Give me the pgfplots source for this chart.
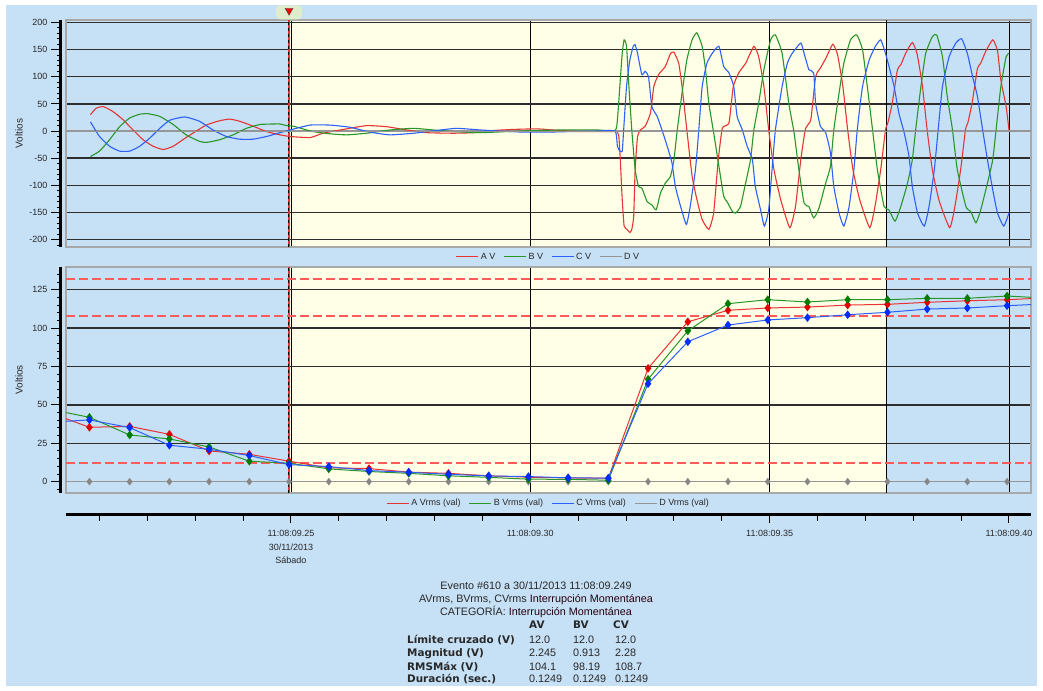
\documentclass[border=0pt]{standalone}
\usepackage{fontspec}
\setmainfont{Liberation Sans}
\newfontfamily\verdanalike{DejaVu Sans}
\usepackage{pgfplots}
\usepackage{pgfplotstable}
\pgfplotsset{compat=1.18}

\definecolor{pagebg}{RGB}{198,224,245}
\definecolor{evtyellow}{RGB}{255,255,231}
\definecolor{framec}{RGB}{168,168,168}
\definecolor{gridc}{RGB}{45,45,45}
\definecolor{txt}{RGB}{40,40,40}
\definecolor{phA}{RGB}{232,52,52}
\definecolor{phB}{RGB}{40,150,40}
\definecolor{phC}{RGB}{45,95,250}
\definecolor{phD}{RGB}{150,150,150}
\definecolor{limitc}{RGB}{255,90,90}
\definecolor{mkA}{RGB}{225,0,0}
\definecolor{mkB}{RGB}{0,125,0}
\definecolor{mkC}{RGB}{0,45,255}
\definecolor{mkD}{RGB}{135,135,135}
\definecolor{glow}{RGB}{222,238,205}

\newcommand\tickfont{\fontsize{9}{13.5}\selectfont}

% RMS values per half cycle (ms after 11:08:09.000)
\pgfplotstableread{
t      A       B      C
199.6  44.9    47.1   38.7
207.9  35.4    41.9   40.2
216.3  36.0    30.4   35.2
224.6  30.8    27.8   23.7
232.9  20.0    22.6   21.1
241.3  17.8    13.3   17.0
249.6  13.3    12.0   11.1
257.9  9.0     8.3    9.8
266.3  8.5     6.6    7.2
274.6  6.2     5.4    6.1
282.9  5.4     3.8    4.8
291.3  3.8     2.8    3.7
299.6  2.9     1.6    3.3
307.9  2.4     1.5    2.5
316.3  2.245   0.913  2.28
324.6  73.8    66.7   63.8
332.9  104.1   98.19  91.1
341.3  111.6   115.9  102.0
349.6  113.1   118.5  105.3
357.9  113.7   117.0  106.8
366.3  115.0   118.5  108.7
374.6  115.5   118.5  110.3
382.9  116.8   119.4  112.4
391.3  117.8   119.4  113.1
399.6  118.5   120.9  114.6
407.9  119.7   119.5  115.8
}\rmsdata

\pgfplotstableread{
t      D
207.9  0
216.3  0
224.6  0
232.9  0
241.3  0
249.6  0
257.9  0
266.3  0
274.6  0
282.9  0
291.3  0
299.6  0
307.9  0
316.3  0
324.6  0
332.9  0
341.3  0
349.6  0
357.9  0
366.3  0
374.6  0
382.9  0
391.3  0
399.6  0
}\rmsD

\pgfplotsset{
  panel/.style={scale only axis, width=965pt, xmin=203, xmax=404.6, anchor=south west},
  mainpanel/.style={
    panel, clip mode=individual,
    axis line style={draw=framec, line width=2pt},
    xtick={250,300,350,400}, xticklabels={}, xtick style={draw=none},
    xmajorgrids, x grid style={black, line width=0.9pt},
    ymajorgrids, y grid style={gridc, line width=1.4pt},
    tick align=outside, ytick pos=left, xtick pos=bottom,
    major tick length=10pt, minor tick length=4pt,
    ytick style={black, line width=0.9pt, xshift=-5pt},
    yticklabel style={font=\tickfont, text=txt, xshift=-5pt},
    every axis y label/.style={at={(rel axis cs:0,0.5)}, xshift=-47pt, rotate=90,
      anchor=center, font=\fontsize{10}{11}\selectfont, text=txt},
    ylabel={Voltios},
    legend image code/.code={\draw[##1] (0pt,0pt) -- (22pt,0pt);},
    legend style={at={(0.5,0)}, anchor=north, yshift=-4pt, draw=none, fill=none,
      legend columns=4, font=\fontsize{9}{10}\selectfont, text=txt, inner sep=0pt,
      /tikz/every even column/.append style={column sep=6pt}},
  },
  wave/.style={line width=1.1pt, smooth, tension=0.3},
  rms/.style={line width=1pt, mark=diamond*, mark size=3.5pt, forget plot},
  limitline/.style={limitc, line width=1.6pt, dash pattern=on 9pt off 4pt, forget plot},
}

\begin{document}
\begin{tikzpicture}[x=1pt,y=1pt]
\fill[white] (0,0) rectangle (1043,690);
\fill[pagebg] (6,4) rectangle (1037,685);

% ---------------- instantaneous voltages ----------------
\begin{axis}[panel, hide axis, height=226.4pt, at={(66pt,443.3pt)}, ymin=-213, ymax=204]
\fill[evtyellow] (249.6,-213) rectangle (374.5,204);
\end{axis}

\begin{axis}[mainpanel, height=226.4pt, at={(66pt,443.3pt)}, ymin=-213, ymax=204,
  ytick={-200,-150,-100,-50,50,100,150,200},
  yticklabels={-200,-150,-100,-50,50,100,150,200},
  extra y ticks={0}, extra y tick labels={0},
  extra y tick style={y grid style={phD, line width=1.2pt}},
  minor ytick={-210,-200,...,200},
]
\draw[line width=3pt] ([xshift=-5pt]rel axis cs:0,0) -- ([xshift=-5pt]rel axis cs:0,1);
\draw[black, line width=0.9pt] (374.5,-213) -- (374.5,204);
\draw[phA, line width=1.6pt] (249.6,-213) -- (249.6,204);
\draw[black, line width=1.1pt, dash pattern=on 3pt off 3pt] ([xshift=-0.6pt]249.6,-213) -- ([xshift=-0.6pt]249.6,204);
\fill[glow, rounded corners=4pt] ([xshift=-13pt,yshift=1pt]249.6,204) rectangle ([xshift=13pt,yshift=15pt]249.6,204);
\fill[red, draw=black!70, line width=0.4pt] ([xshift=-4pt,yshift=12pt]249.6,204) -- ([xshift=4pt,yshift=12pt]249.6,204) -- ([yshift=5pt]249.6,204) -- cycle;

\addplot[phA, wave] coordinates {
(208.1,30) (209.3,42) (210.8,45) (212.8,36) (214.9,21) (217.0,2) (219.1,-16) (221.2,-28)
(223.3,-34) (225.4,-28) (227.4,-16) (229.5,-4) (232.3,11) (235.1,19) (237.2,22) (239.3,18)
(242.1,9) (244.9,-1) (247.7,-7) (249.8,-10) (254.0,-12) (256.7,-4) (261.6,4) (265.8,10)
(270.0,8) (274.2,2) (278.4,-3) (283.9,-4) (288.1,-3) (292.3,1) (296.5,3) (301.4,4)
(306.2,1) (310.4,-1) (317.4,-1) (318.1,-1) (318.5,-10) (318.8,-53) (319.2,-126) (319.6,-175)
(320.2,-181) (320.8,-187) (321.2,-181) (321.6,-157) (321.9,-71) (322.4,-10) (323.0,2) (324.0,9)
(325.1,33) (325.8,82) (326.8,104) (328.2,119) (329.3,143) (330.0,145) (331.0,125) (331.7,82)
(332.7,2) (333.8,-83) (334.8,-126) (335.9,-163) (337.3,-181) (338.3,-151) (339.2,-59) (340.1,5)
(341.5,15) (342.4,82) (343.6,108) (345.0,125) (346.7,156) (347.7,137) (348.8,82) (349.8,2)
(350.9,-71) (352.3,-126) (354.2,-178) (355.4,-139) (356.5,-53) (357.5,5) (358.6,21) (359.6,100)
(360.6,116) (361.8,135) (363.2,160) (364.2,140) (365.3,82) (366.3,2) (367.4,-71) (368.8,-126)
(370.9,-178) (372.0,-139) (373.2,-71) (374.2,2) (374.7,15) (375.6,51) (376.7,113) (377.4,122)
(378.4,143) (379.8,163) (380.8,142) (381.9,84) (382.9,2) (384.0,-72) (385.4,-128) (387.6,-178)
(388.7,-139) (389.9,-71) (390.9,2) (391.4,15) (392.3,52) (393.4,115) (394.1,125) (395.1,146)
(396.6,168) (397.6,148) (398.3,94) (399.4,45) (400.0,2)
};
\addlegendentry{A V}
\addplot[phB, wave] coordinates {
(208.1,-47) (210.0,-37) (212.1,-16) (214.2,8) (216.3,24) (218.4,31) (220.1,32) (222.6,27)
(225.4,12) (228.1,-7) (230.9,-19) (232.3,-21) (235.1,-16) (237.9,-7) (240.7,5) (243.5,12)
(246.3,13) (247.7,13) (249.1,10) (250.5,9) (252.5,4) (254.6,-1) (258.1,-5) (261.6,-7)
(265.8,-4) (270.7,2) (275.6,5) (279.7,2) (283.9,-1) (289.5,-3) (295.1,-1) (300.7,1)
(307.0,2) (313.9,2) (317.7,1) (318.2,21) (318.7,82) (319.2,143) (319.6,168) (320.1,156)
(320.6,82) (321.2,2) (321.9,-71) (322.6,-102) (323.3,-105) (324.4,-130) (325.4,-136) (326.3,-145)
(327.2,-114) (328.2,-96) (329.3,-83) (330.0,-53) (330.7,2) (331.7,70) (332.7,131) (333.8,168)
(334.8,181) (335.9,156) (336.6,113) (337.3,51) (338.3,-3) (339.4,-65) (340.4,-120) (341.1,-130)
(342.2,-148) (342.9,-151) (343.9,-139) (344.9,-99) (346.0,-53) (346.7,2) (347.7,51) (348.8,113)
(350.2,168) (351.2,177) (352.6,143) (354.0,51) (355.1,-3) (356.1,-71) (357.2,-133) (358.2,-139)
(359.2,-160) (360.3,-142) (361.7,-96) (362.7,-65) (363.4,2) (364.5,70) (365.5,125) (366.9,168)
(368.2,177) (369.4,150) (370.4,82) (371.5,2) (372.5,-71) (373.9,-139) (374.9,-145) (376.2,-166)
(377.4,-139) (378.8,-96) (379.8,-53) (380.5,2) (381.6,82) (382.6,143) (384.0,174) (384.9,177)
(386.1,137) (387.1,64) (388.2,2) (389.2,-71) (391.0,-139) (392.0,-148) (393.1,-169) (394.1,-145)
(395.5,-96) (396.6,-53) (397.3,2) (398.3,82) (399.4,137) (400.0,143)
};
\addlegendentry{B V}
\addplot[phC, wave] coordinates {
(208.1,17) (210.0,-10) (212.1,-28) (214.2,-37) (216.3,-37) (218.4,-28) (220.5,-13) (222.6,5)
(224.7,20) (227.8,26) (230.9,18) (233.7,2) (236.5,-10) (239.3,-15) (242.1,-15) (244.9,-10)
(247.7,-3) (249.8,2) (254.0,11) (258.1,11) (262.3,7) (266.5,-2) (270.7,-7) (275.6,-4)
(280.4,1) (284.6,5) (289.5,2) (293.7,0) (298.6,-2) (303.5,-2) (308.3,-1) (313.9,0)
(317.7,0) (318.2,-28) (318.7,-37) (319.2,-37) (319.5,2) (320.1,82) (320.8,131) (321.5,156)
(321.9,159) (322.4,143) (323.3,104) (324.0,110) (324.7,100) (325.4,45) (326.5,27) (327.5,2)
(328.6,-28) (329.6,-59) (330.3,-102) (331.4,-139) (332.6,-172) (333.4,-139) (334.5,-71) (335.2,2)
(335.9,82) (336.9,125) (338.0,143) (339.4,156) (340.4,119) (341.5,107) (342.5,82) (343.2,27)
(344.3,2) (345.3,-28) (346.4,-53) (347.0,-102) (348.1,-145) (348.9,-175) (349.8,-145) (350.5,-71)
(351.2,2) (352.6,82) (353.7,125) (354.7,143) (356.5,162) (357.2,143) (358.2,113) (359.2,107)
(359.6,51) (360.6,9) (361.7,-3) (362.7,-40) (363.4,-102) (364.5,-151) (365.5,-175) (366.6,-139)
(367.6,-71) (368.3,2) (369.4,82) (370.8,131) (372.1,156) (373.2,168) (374.2,143) (375.2,110)
(376.0,82) (377.0,33) (378.1,-3) (379.1,-46) (379.8,-102) (380.9,-151) (382.3,-175) (383.3,-139)
(384.4,-71) (385.2,2) (386.1,82) (387.5,137) (388.9,162) (390.1,170) (391.3,143) (392.4,100)
(393.4,64) (394.5,2) (395.5,-53) (396.6,-108) (397.6,-151) (398.9,-175) (400.0,-151)
};
\addlegendentry{C V}
\addplot[phD, line width=1pt] coordinates {(208.1,0) (400.0,0)};
\addlegendentry{D V}
\end{axis}

% ---------------- RMS values ----------------
\begin{axis}[panel, hide axis, height=226.3pt, at={(66pt,197pt)}, ymin=-7.4, ymax=140]
\fill[evtyellow] (249.6,-7.4) rectangle (374.5,140);
\end{axis}

\begin{axis}[mainpanel, height=226.3pt, at={(66pt,197pt)}, ymin=-7.4, ymax=140,
  ytick={25,50,75,100,125}, yticklabels={25,50,75,100,125},
  extra y ticks={0}, extra y tick labels={0},
  extra y tick style={y grid style={phD, line width=1.2pt}},
  minor ytick={-5,0,...,135},
]
\draw[line width=3pt] ([xshift=-5pt]rel axis cs:0,0) -- ([xshift=-5pt]rel axis cs:0,1);
\draw[black, line width=0.9pt] (374.5,-7.4) -- (374.5,140);
\draw[phA, line width=1.6pt] (249.6,-7.4) -- (249.6,140);
\draw[black, line width=1.1pt, dash pattern=on 3pt off 3pt] ([xshift=-0.6pt]249.6,-7.4) -- ([xshift=-0.6pt]249.6,140);
% limit lines at 10 %, 90 % and 110 % of 120 V
\addplot[limitline] coordinates {(203,12) (404.6,12)};
\addplot[limitline] coordinates {(203,108) (404.6,108)};
\addplot[limitline] coordinates {(203,132) (404.6,132)};
% line-only legend keys for the RMS series
\addlegendimage{legend image code/.code={\draw[phA, line width=1.3pt] (0pt,0pt) -- (22pt,0pt);}}
\addlegendentry{A Vrms (val)}
\addlegendimage{legend image code/.code={\draw[phB, line width=1.3pt] (0pt,0pt) -- (22pt,0pt);}}
\addlegendentry{B Vrms (val)}
\addlegendimage{legend image code/.code={\draw[phC, line width=1.3pt] (0pt,0pt) -- (22pt,0pt);}}
\addlegendentry{C Vrms (val)}
\addlegendimage{legend image code/.code={\draw[phD, line width=1.3pt] (0pt,0pt) -- (22pt,0pt);}}
\addlegendentry{D Vrms (val)}
\addplot[phD, rms, mark size=3pt, mark options={mkD}] table[x=t, y=D] {\rmsD};
\addplot[phA, rms, mark options={mkA}] table[x=t, y=A] {\rmsdata};
\addplot[phB, rms, mark options={mkB}] table[x=t, y=B] {\rmsdata};
\addplot[phC, rms, mark options={mkC}] table[x=t, y=C] {\rmsdata};
\end{axis}

% ---------------- time axis ----------------
\begin{axis}[panel, height=10pt, at={(66pt,175pt)}, ymin=0, ymax=1,
  axis x line=bottom, axis y line=none,
  axis line style={-, line width=3pt, black},
  xtick={250,300,350,400}, minor xtick={210,220,...,400},
  xticklabels={{11:08:09.25\\30/11/2013\\Sábado},{11:08:09.30},{11:08:09.35},{11:08:09.40}},
  xticklabel style={align=center, font=\tickfont, text=txt, anchor=north, yshift=-4pt},
  tick align=outside, major tick length=8pt, minor tick length=6pt,
  xtick style={black, line width=1pt},
]
\end{axis}

% ---------------- event summary ----------------
\begin{scope}[every node/.style={inner sep=0pt, text=txt, font=\fontsize{10.8}{12}\selectfont}]
\node[anchor=base] at (536,100.5) {Evento \#610 a 30/11/2013 11:08:09.249};
\node[anchor=base] at (536,87.5) {AVrms, BVrms, CVrms \textcolor{black!80!purple}{Interrupción Momentánea}};
\node[anchor=base] at (536,74) {CATEGORÍA: \textcolor{black!80!purple}{Interrupción Momentánea}};
\foreach \x/\h in {529/AV,573/BV,613/CV}
  \node[anchor=base west, font=\verdanalike\bfseries\fontsize{10.4}{12}\selectfont] at (\x,61) {\h};
\foreach \y/\lab/\a/\b/\c in {46.5/Límite cruzado (V)/12.0/12.0/12.0,
                             33.5/Magnitud (V)/2.245/0.913/2.28,
                             19.5/RMSMáx (V)/104.1/98.19/108.7,
                             7.5/Duración (sec.)/0.1249/0.1249/0.1249} {
  \node[anchor=base west, font=\verdanalike\bfseries\fontsize{10.4}{12}\selectfont] at (407,\y) {\lab};
  \node[anchor=base west] at (529,\y) {\a};
  \node[anchor=base west] at (573,\y) {\b};
  \node[anchor=base west] at (615,\y) {\c};
}
\end{scope}
\end{tikzpicture}
\end{document}
